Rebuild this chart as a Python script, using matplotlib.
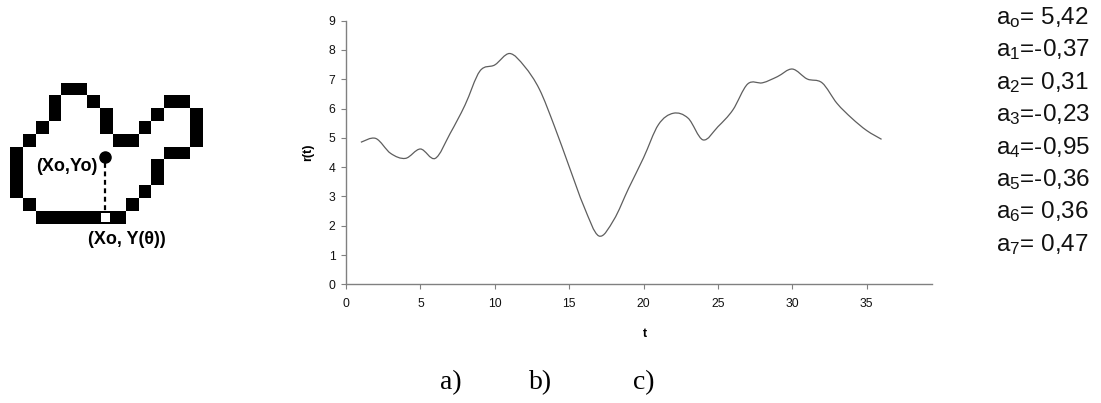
import numpy as np
import matplotlib
matplotlib.use("Agg")
import matplotlib.pyplot as plt
from matplotlib.path import Path
from matplotlib.patches import PathPatch, Rectangle

# ---------------- data ----------------
t_values = list(range(1, 37))
r_values = [4.85, 4.98, 4.47, 4.30, 4.62, 4.30, 5.15, 6.12, 7.28, 7.49,
            7.88, 7.44, 6.66, 5.41, 4.02, 2.65, 1.65, 2.20, 3.28, 4.32,
            5.45, 5.84, 5.67, 4.93, 5.38, 5.95, 6.84, 6.88, 7.09, 7.35,
            7.01, 6.88, 6.18, 5.67, 5.25, 4.95]
x_ticks = [0, 5, 10, 15, 20, 25, 30, 35]
y_ticks = [0, 1, 2, 3, 4, 5, 6, 7, 8, 9]

coef_subscripts = ["o", "1", "2", "3", "4", "5", "6", "7"]
coef_values = [5.42, -0.37, 0.31, -0.23, -0.95, -0.36, 0.36, 0.47]

# pixel outline of the shape ('#' black cell, 'o' marked start cell)
shape_rows = [
    "....##.........",
    "...#..#.....##.",
    "...#...#...#..#",
    "..#....#..#...#",
    ".#......##....#",
    "#...........##.",
    "#..........#...",
    "#..........#...",
    "#.........#....",
    ".#.......#.....",
    "..#####o#......",
]
panel_labels = ["a)", "b)", "c)"]

plt.rcParams["font.family"] = ["Liberation Sans", "DejaVu Sans"]
plt.rcParams["mathtext.fontset"] = "custom"
plt.rcParams["mathtext.rm"] = "Liberation Sans"
plt.rcParams["mathtext.it"] = "Liberation Sans:italic"
plt.rcParams["mathtext.bf"] = "Liberation Sans:bold"

W, H = 1101, 403
fig = plt.figure(figsize=(W / 100, H / 100), dpi=100)

# ---------------- a) shape ----------------
gx0, gy0, cell = 10, 83.3, 12.83
nrows, ncols = len(shape_rows), len(shape_rows[0])
axs = fig.add_axes([gx0 / W, 1 - (gy0 + nrows * cell) / H,
                    ncols * cell / W, nrows * cell / H])
grid = np.array([[1 if ch in "#o" else 0 for ch in row] for row in shape_rows])
axs.imshow(grid, cmap="gray_r", vmin=0, vmax=1, interpolation="nearest",
           extent=(0, ncols, nrows, 0), aspect="auto")
axs.set_xlim(0, ncols)
axs.set_ylim(nrows, 0)
axs.axis("off")
for ri, row in enumerate(shape_rows):
    for ci, ch in enumerate(row):
        if ch == "o":
            axs.add_patch(Rectangle((ci + 0.08, ri + 0.12), 0.72, 0.66,
                                    facecolor="white", edgecolor="none"))
            xc = ci + 0.42
            axs.plot([xc, xc], [6.25, ri + 0.1], color="black", lw=1.6,
                     ls=(0, (2.2, 1.6)), solid_capstyle="butt")
            axs.plot([xc], [5.75], marker="o", ms=8, color="black")
            axs.text(xc - 0.6, 6.5, "(Xo,Yo)", ha="right", va="center",
                     fontsize=13, fontweight="bold")
            axs.text(xc - 1.35, 12.2, "(Xo, Y(θ))", ha="left", va="center",
                     fontsize=13, fontweight="bold", clip_on=False)

# ---------------- b) r(t) chart ----------------
ax_left, ax_right, ax_bottom, ax_top = 346, 931.7, 284.3, 20.7
ax = fig.add_axes([ax_left / W, 1 - ax_bottom / H,
                   (ax_right - ax_left) / W, (ax_bottom - ax_top) / H])
P = np.column_stack([t_values, r_values]).astype(float)
n = len(P)
verts = [tuple(P[0])]
codes = [Path.MOVETO]
for i in range(n - 1):
    p0 = P[i - 1] if i > 0 else P[i]
    p1 = P[i]
    p2 = P[i + 1]
    p3 = P[i + 2] if i + 2 < n else P[i + 1]
    c1 = p1 + (p2 - p0) / 6.0
    c2 = p2 - (p3 - p1) / 6.0
    verts += [tuple(c1), tuple(c2), tuple(p2)]
    codes += [Path.CURVE4] * 3
ax.add_patch(PathPatch(Path(verts, codes), facecolor="none",
                       edgecolor="#5e5e5e", lw=0.9))
ax.set_xlim(0, 39.37)
ax.set_ylim(0, 9)
ax.set_xticks(x_ticks)
ax.set_yticks(y_ticks)
for s in ["top", "right"]:
    ax.spines[s].set_visible(False)
for s in ["left", "bottom"]:
    ax.spines[s].set_color("#808080")
    ax.spines[s].set_linewidth(1.0)
ax.tick_params(axis="both", direction="out", length=3.6, width=0.8,
               color="#808080", labelsize=8.7, labelcolor="#111111")
ax.tick_params(axis="x", pad=6)
ax.tick_params(axis="y", pad=4)
ax.set_xlabel("t", fontsize=9, fontweight="bold")
ax.set_ylabel("r(t)", fontsize=9, fontweight="bold")
ax.xaxis.set_label_coords((645 - ax_left) / (ax_right - ax_left),
                          (ax_bottom - 328) / (ax_bottom - ax_top))
ax.yaxis.set_label_coords((314 - ax_left) / (ax_right - ax_left), 0.5)

# ---------------- c) coefficients ----------------
for i, (sub, val) in enumerate(zip(coef_subscripts, coef_values)):
    sval = ("%.2f" % val).replace(".", ",")
    if val >= 0:
        sval = " " + sval
    s = "a$_\\mathregular{%s}$=%s" % (sub, sval)
    fig.text(996 / W, 1 - (24 + 32.4 * i) / H, s, fontsize=17.5,
             ha="left", va="baseline", color="#111111")

# ---------------- panel labels ----------------
for lbl, xc in zip(panel_labels, [451, 541, 644]):
    fig.text(xc / W, 1 - 383 / H, lbl, fontsize=20, ha="center",
             va="center", family=["Liberation Serif", "DejaVu Serif"])

fig.savefig("out.png", dpi=100)
